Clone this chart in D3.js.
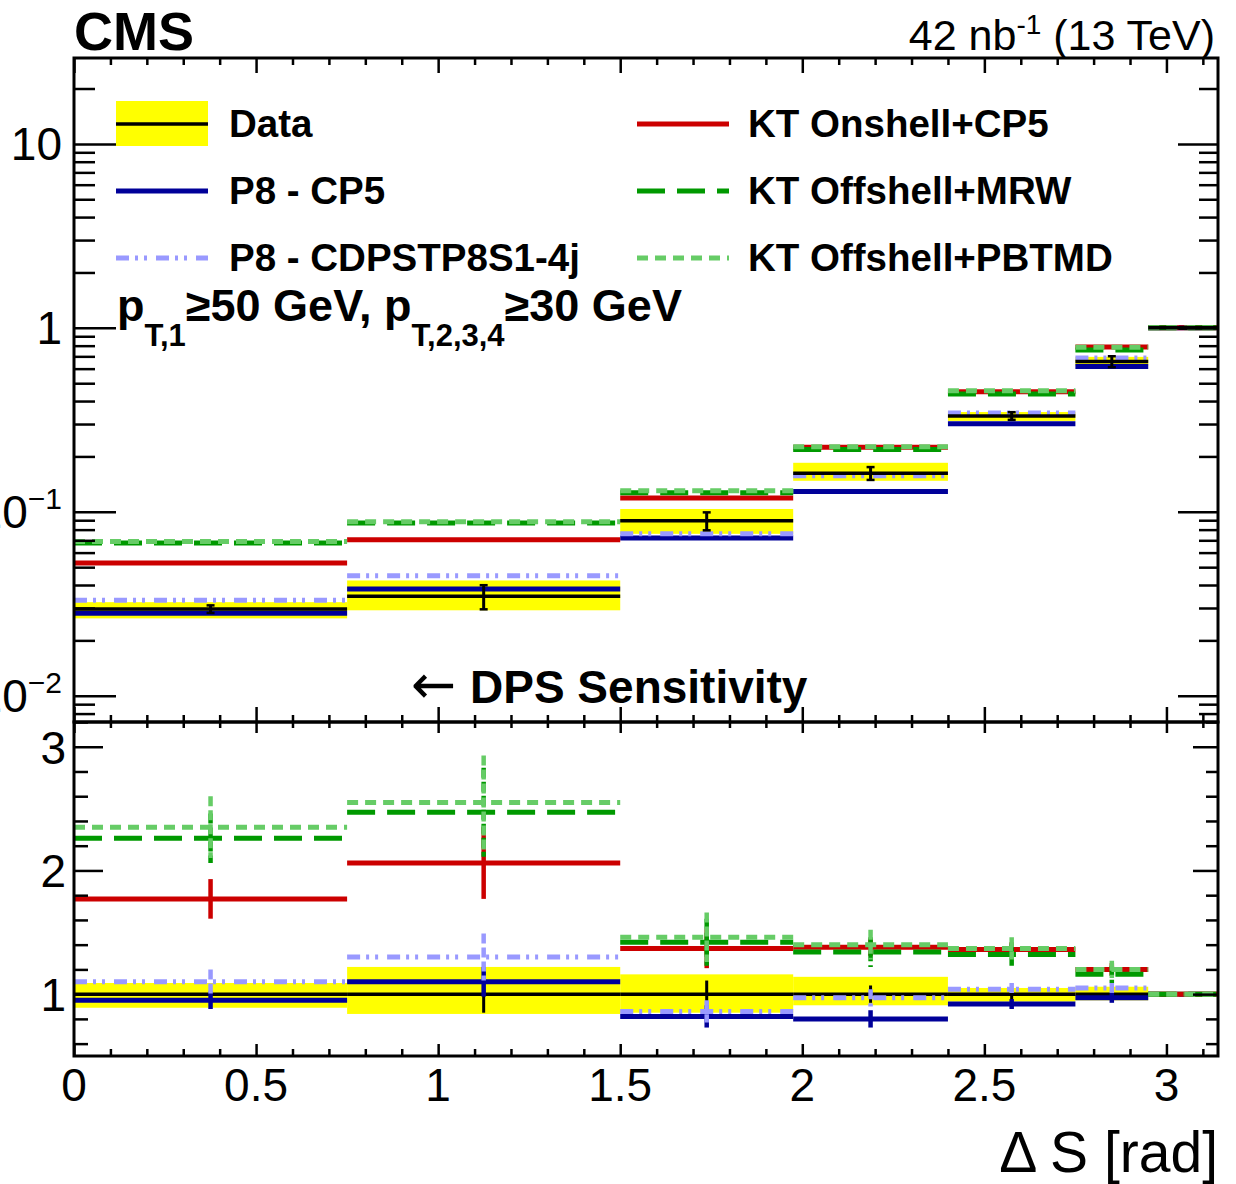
<!DOCTYPE html>
<html>
<head>
<meta charset="utf-8">
<script src="https://cdn.jsdelivr.net/npm/d3@7/dist/d3.min.js"></script>
<style>
  body { margin: 0; background: #fff; }
  svg { display: block; font-family: "Liberation Sans", Arial, Helvetica, sans-serif; }
</style>
</head>
<body>
<div id="chart"></div>
<script>
// bins of Delta S [rad]
var binEdges = [0, 0.75, 1.5, 1.975, 2.4, 2.75, 2.95, 3.1416];

// upper panel: normalised distributions (last bin = 1)
var dataVal = [0.0296, 0.0347, 0.0893, 0.162, 0.332, 0.656, 1.0];
var dataErr = [0.0014, 0.0052, 0.0100, 0.013, 0.016, 0.045, 0.01];
var cp5Val = [0.0281, 0.0380, 0.0720, 0.129, 0.301, 0.616, 1.0];
var cdpsVal = [0.0330, 0.0449, 0.0760, 0.157, 0.344, 0.686, 1.0];
var onshellVal = [0.0526, 0.0705, 0.119, 0.224, 0.450, 0.787, 1.0];
var mrwVal = [0.0676, 0.0868, 0.127, 0.218, 0.437, 0.758, 1.0];
var pbtmdVal = [0.0690, 0.0882, 0.130, 0.226, 0.455, 0.784, 1.0];

// lower panel: ratio to data
var bandLo = [0.89, 0.84, 0.85, 0.91, 0.94, 0.95, 0.98];
var bandHi = [1.09, 1.22, 1.16, 1.14, 1.05, 1.06, 1.02];
var ratioData = [1, 1, 1, 1, 1, 1, 1];
var ratioDataErr = [0.05, 0.15, 0.11, 0.07, 0.05, 0.03, 0.01];
var ratioCp5 = [0.95, 1.10, 0.82, 0.80, 0.92, 0.97, 1.0];
var ratioCp5Err = [0.07, 0.12, 0.09, 0.07, 0.04, 0.04, 0.01];
var ratioCdps = [1.10, 1.30, 0.86, 0.97, 1.04, 1.05, 1.0];
var ratioCdpsErr = [0.10, 0.19, 0.09, 0.07, 0.05, 0.04, 0.01];
var ratioOnshell = [1.77, 2.06, 1.37, 1.38, 1.36, 1.20, 1.0];
var ratioOnshellErr = [0.16, 0.29, 0.16, 0.07, 0.06, 0.05, 0.0];
var ratioMrw = [2.26, 2.47, 1.42, 1.34, 1.32, 1.16, 1.0];
var ratioMrwErr = [0.20, 0.36, 0.19, 0.12, 0.09, 0.07, 0.0];
var ratioPbtmd = [2.35, 2.55, 1.46, 1.40, 1.37, 1.20, 1.0];
var ratioPbtmdErr = [0.25, 0.38, 0.20, 0.12, 0.09, 0.07, 0.0];

// tick labels
var xTicks = [0, 0.5, 1, 1.5, 2, 2.5, 3];
var xTickLabels = ["0", "0.5", "1", "1.5", "2", "2.5", "3"];
var logTicks = [0.01, 0.1, 1, 10];
var logTickBase = ["10", "10", "1", "10"];
var logTickExp = ["\u22122", "\u22121", "", ""];
var ratioTicks = [1, 2, 3];
var ratioTickLabels = ["1", "2", "3"];

var width = 1236,
  height = 1184;
var left = 74,
  right = 1218,
  topY = 58,
  midY = 722,
  botY = 1056;

var svg = d3
  .select("#chart")
  .append("svg")
  .attr("width", width)
  .attr("height", height);

var x = d3.scaleLinear().domain([0, 3.1416]).range([left, right]);
var yTop = d3.scaleLog().domain([0.0072, 29.3]).range([midY, topY]);
var yRat = d3.scaleLinear().domain([0.5, 3.2]).range([botY, midY]);

var bins = binEdges.slice(0, -1).map(function(e, i) {
  return { x0: e, x1: binEdges[i + 1], c: (e + binEdges[i + 1]) / 2 };
});

// series styles
var series = [
  { name: "P8 - CP5", top: cp5Val, ratio: ratioCp5, err: ratioCp5Err, color: "#000099", dash: null, w: 5 },
  { name: "P8 - CDPSTP8S1-4j", top: cdpsVal, ratio: ratioCdps, err: ratioCdpsErr, color: "#9999ff", dash: "13,6,3,6,3,9", w: 5 },
  { name: "KT Onshell+CP5", top: onshellVal, ratio: ratioOnshell, err: ratioOnshellErr, color: "#cc0000", dash: null, w: 5 },
  { name: "KT Offshell+MRW", top: mrwVal, ratio: ratioMrw, err: ratioMrwErr, color: "#009900", dash: "28,12", w: 5 },
  { name: "KT Offshell+PBTMD", top: pbtmdVal, ratio: ratioPbtmd, err: ratioPbtmdErr, color: "#66cc66", dash: "11,7", w: 5 }
];

// clip paths
var defs = svg.append("defs");
defs.append("clipPath").attr("id", "clipTop")
  .append("rect").attr("x", left).attr("y", topY).attr("width", right - left).attr("height", midY - topY);
defs.append("clipPath").attr("id", "clipRat")
  .append("rect").attr("x", left).attr("y", midY).attr("width", right - left).attr("height", botY - midY);

var gTop = svg.append("g").attr("clip-path", "url(#clipTop)");
var gRat = svg.append("g").attr("clip-path", "url(#clipRat)");

// ---- upper panel ----
gTop.selectAll("rect.band")
  .data(bins)
  .enter()
  .append("rect")
  .attr("class", "band")
  .attr("x", function(d) { return x(d.x0); })
  .attr("width", function(d) { return x(d.x1) - x(d.x0); })
  .attr("y", function(d, i) { return yTop(dataVal[i] * bandHi[i]); })
  .attr("height", function(d, i) { return yTop(dataVal[i] * bandLo[i]) - yTop(dataVal[i] * bandHi[i]); })
  .attr("fill", "#ffff00");

series.forEach(function(s) {
  gTop.append("g")
    .selectAll("line")
    .data(bins)
    .enter()
    .append("line")
    .attr("x1", function(d) { return x(d.x0); })
    .attr("x2", function(d) { return x(d.x1); })
    .attr("y1", function(d, i) { return yTop(s.top[i]); })
    .attr("y2", function(d, i) { return yTop(s.top[i]); })
    .attr("stroke", s.color)
    .attr("stroke-width", s.w)
    .attr("stroke-dasharray", s.dash);
});

gTop.append("g")
  .selectAll("line")
  .data(bins)
  .enter()
  .append("line")
  .attr("x1", function(d) { return x(d.x0); })
  .attr("x2", function(d) { return x(d.x1); })
  .attr("y1", function(d, i) { return yTop(dataVal[i]); })
  .attr("y2", function(d, i) { return yTop(dataVal[i]); })
  .attr("stroke", "#000")
  .attr("stroke-width", 3.5);

var errTop = gTop.append("g").selectAll("g").data(bins).enter().append("g");
errTop.append("line")
  .attr("x1", function(d) { return x(d.c); })
  .attr("x2", function(d) { return x(d.c); })
  .attr("y1", function(d, i) { return yTop(dataVal[i] + dataErr[i]); })
  .attr("y2", function(d, i) { return yTop(dataVal[i] - dataErr[i]); })
  .attr("stroke", "#000")
  .attr("stroke-width", 3);
[1, -1].forEach(function(sg) {
  errTop.append("line")
    .attr("x1", function(d) { return x(d.c) - 4; })
    .attr("x2", function(d) { return x(d.c) + 4; })
    .attr("y1", function(d, i) { return yTop(dataVal[i] + sg * dataErr[i]); })
    .attr("y2", function(d, i) { return yTop(dataVal[i] + sg * dataErr[i]); })
    .attr("stroke", "#000")
    .attr("stroke-width", 2.5);
});

// ---- ratio panel ----
gRat.selectAll("rect.band")
  .data(bins)
  .enter()
  .append("rect")
  .attr("class", "band")
  .attr("x", function(d) { return x(d.x0); })
  .attr("width", function(d) { return x(d.x1) - x(d.x0); })
  .attr("y", function(d, i) { return yRat(bandHi[i]); })
  .attr("height", function(d, i) { return yRat(bandLo[i]) - yRat(bandHi[i]); })
  .attr("fill", "#ffff00");

gRat.append("g")
  .selectAll("line")
  .data(bins)
  .enter()
  .append("line")
  .attr("x1", function(d) { return x(d.x0); })
  .attr("x2", function(d) { return x(d.x1); })
  .attr("y1", function(d, i) { return yRat(ratioData[i]); })
  .attr("y2", function(d, i) { return yRat(ratioData[i]); })
  .attr("stroke", "#000")
  .attr("stroke-width", 3.5);

gRat.append("g")
  .selectAll("line")
  .data(bins)
  .enter()
  .append("line")
  .attr("x1", function(d) { return x(d.c); })
  .attr("x2", function(d) { return x(d.c); })
  .attr("y1", function(d, i) { return yRat(ratioData[i] + ratioDataErr[i]); })
  .attr("y2", function(d, i) { return yRat(ratioData[i] - ratioDataErr[i]); })
  .attr("stroke", "#000")
  .attr("stroke-width", 3);

series.forEach(function(s) {
  var g = gRat.append("g");
  g.selectAll("line.h")
    .data(bins)
    .enter()
    .append("line")
    .attr("class", "h")
    .attr("x1", function(d) { return x(d.x0); })
    .attr("x2", function(d) { return x(d.x1); })
    .attr("y1", function(d, i) { return yRat(s.ratio[i]); })
    .attr("y2", function(d, i) { return yRat(s.ratio[i]); })
    .attr("stroke", s.color)
    .attr("stroke-width", s.w)
    .attr("stroke-dasharray", s.dash);
  g.selectAll("line.v")
    .data(bins)
    .enter()
    .append("line")
    .attr("class", "v")
    .attr("x1", function(d) { return x(d.c); })
    .attr("x2", function(d) { return x(d.c); })
    .attr("y1", function(d, i) { return yRat(s.ratio[i] + s.err[i]); })
    .attr("y2", function(d, i) { return yRat(s.ratio[i] - s.err[i]); })
    .attr("stroke", s.color)
    .attr("stroke-width", 4.5)
    .attr("stroke-dasharray", s.dash ? "10,4" : null);
});

// ---- frames and ticks ----
svg.append("rect")
  .attr("x", left).attr("y", topY)
  .attr("width", right - left).attr("height", midY - topY)
  .attr("fill", "none").attr("stroke", "#000").attr("stroke-width", 3);
svg.append("rect")
  .attr("x", left).attr("y", midY)
  .attr("width", right - left).attr("height", botY - midY)
  .attr("fill", "none").attr("stroke", "#000").attr("stroke-width", 3);

function ticks(axisFn, scale, vals, size, tx, ty) {
  var g = svg.append("g")
    .attr("transform", "translate(" + tx + "," + ty + ")")
    .call(axisFn(scale).tickValues(vals).tickSize(size).tickSizeOuter(0).tickFormat(""));
  g.select(".domain").remove();
  g.selectAll("line").attr("stroke-width", 2.5);
}

var xMinor = d3.range(1, 32).map(function(k) { return k / 10; })
  .filter(function(v) { return Math.abs(v * 2 - Math.round(v * 2)) > 0.01; });
var logMinor = [];
for (var e = -3; e <= 1; e++) {
  for (var k = 2; k <= 9; k++) {
    var v = k * Math.pow(10, e);
    if (v > 0.0072 && v < 29.3) logMinor.push(v);
  }
}
var ratioMinor = [0.6, 0.8, 1.2, 1.4, 1.6, 1.8, 2.2, 2.4, 2.6, 2.8, 3.2];

// x ticks
ticks(d3.axisBottom, x, xTicks, 15, 0, topY);
ticks(d3.axisBottom, x, xMinor, 7, 0, topY);
ticks(d3.axisTop, x, xTicks, 15, 0, midY);
ticks(d3.axisTop, x, xMinor, 7, 0, midY);
ticks(d3.axisBottom, x, xTicks, 11, 0, midY);
ticks(d3.axisBottom, x, xMinor, 6, 0, midY);
ticks(d3.axisTop, x, xTicks, 12, 0, botY);
ticks(d3.axisTop, x, xMinor, 7, 0, botY);
// y ticks upper
ticks(d3.axisRight, yTop, logTicks, 42, left, 0);
ticks(d3.axisRight, yTop, logMinor, 21, left, 0);
ticks(d3.axisLeft, yTop, logTicks, 40, right, 0);
ticks(d3.axisLeft, yTop, logMinor, 19, right, 0);
// y ticks ratio
ticks(d3.axisRight, yRat, ratioTicks, 29, left, 0);
ticks(d3.axisRight, yRat, ratioMinor, 14, left, 0);
ticks(d3.axisLeft, yRat, ratioTicks, 25, right, 0);
ticks(d3.axisLeft, yRat, ratioMinor, 12, right, 0);

// ---- tick labels ----
svg.append("g")
  .selectAll("text")
  .data(xTicks)
  .enter()
  .append("text")
  .attr("x", function(d) { return x(d); })
  .attr("y", 1101)
  .attr("text-anchor", "middle")
  .attr("font-size", 46)
  .text(function(d, i) { return xTickLabels[i]; });

var logLab = svg.append("g")
  .selectAll("text")
  .data(logTicks)
  .enter()
  .append("text")
  .attr("x", 62)
  .attr("y", function(d) { return yTop(d) + 16; })
  .attr("text-anchor", "end")
  .attr("font-size", 46);
logLab.append("tspan").text(function(d, i) { return logTickBase[i]; });
logLab.append("tspan")
  .attr("font-size", 30)
  .attr("dy", -19)
  .text(function(d, i) { return logTickExp[i]; });

svg.append("g")
  .selectAll("text")
  .data(ratioTicks)
  .enter()
  .append("text")
  .attr("x", 66)
  .attr("y", function(d) { return yRat(d) + 17; })
  .attr("text-anchor", "end")
  .attr("font-size", 46)
  .text(function(d, i) { return ratioTickLabels[i]; });

// axis title
svg.append("text")
  .attr("x", 1218)
  .attr("y", 1172)
  .attr("text-anchor", "end")
  .attr("font-size", 57)
  .text("\u0394 S [rad]");

// ---- header texts ----
svg.append("text")
  .attr("x", 74)
  .attr("y", 50)
  .attr("font-size", 54)
  .attr("font-weight", "bold")
  .text("CMS");

var lumi = svg.append("text")
  .attr("x", 1215)
  .attr("y", 50)
  .attr("text-anchor", "end")
  .attr("font-size", 43);
lumi.append("tspan").text("42 nb");
lumi.append("tspan").attr("font-size", 28).attr("dy", -16).text("-1");
lumi.append("tspan").attr("dy", 16).text(" (13 TeV)");

var cut = svg.append("text")
  .attr("x", 117)
  .attr("y", 321)
  .attr("font-size", 45)
  .attr("font-weight", "bold");
cut.append("tspan").text("p");
cut.append("tspan").attr("font-size", 31).attr("dy", 25).text("T,1");
cut.append("tspan").attr("dy", -25).text("\u226550 GeV, p");
cut.append("tspan").attr("font-size", 31).attr("dy", 25).text("T,2,3,4");
cut.append("tspan").attr("dy", -25).text("\u226530 GeV");

svg.append("text")
  .attr("x", 411)
  .attr("y", 703)
  .attr("font-size", 54)
  .attr("font-family", "DejaVu Sans")
  .text("\u2190");
svg.append("text")
  .attr("x", 470)
  .attr("y", 703)
  .attr("font-size", 46)
  .attr("font-weight", "bold")
  .text("DPS Sensitivity");

// ---- legend ----
var legRows = [124, 191, 258];
var leg = svg.append("g");
leg.append("rect")
  .attr("x", 116).attr("y", 101)
  .attr("width", 92).attr("height", 45)
  .attr("fill", "#ffff00");
leg.append("line")
  .attr("x1", 116).attr("x2", 208)
  .attr("y1", legRows[0]).attr("y2", legRows[0])
  .attr("stroke", "#000").attr("stroke-width", 3.5);
leg.append("text")
  .attr("x", 229).attr("y", legRows[0] + 13)
  .attr("font-size", 38.5).attr("font-weight", "bold")
  .text("Data");

var legPos = [
  { lx: 116, tx: 229, y: legRows[1] },
  { lx: 116, tx: 229, y: legRows[2] },
  { lx: 637, tx: 748, y: legRows[0] },
  { lx: 637, tx: 748, y: legRows[1] },
  { lx: 637, tx: 748, y: legRows[2] }
];
series.forEach(function(s, i) {
  var p = legPos[i];
  leg.append("line")
    .attr("x1", p.lx).attr("x2", p.lx + 92)
    .attr("y1", p.y).attr("y2", p.y)
    .attr("stroke", s.color)
    .attr("stroke-width", s.w)
    .attr("stroke-dasharray", s.dash);
  leg.append("text")
    .attr("x", p.tx).attr("y", p.y + 13)
    .attr("font-size", 38.5).attr("font-weight", "bold")
    .text(s.name);
});
</script>
</body>
</html>
